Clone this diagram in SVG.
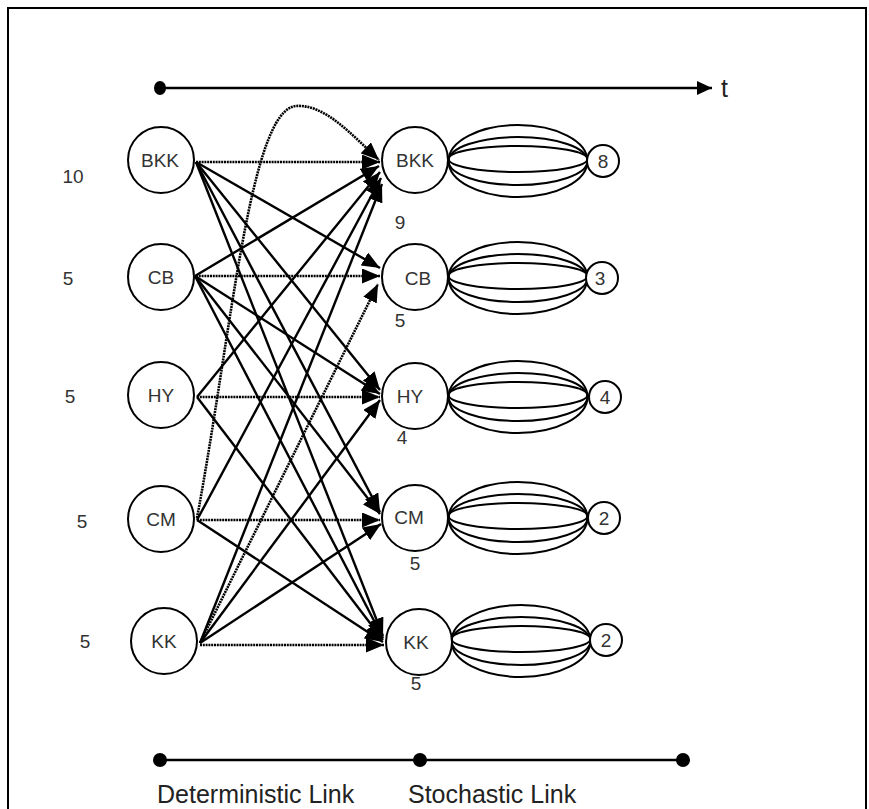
<svg xmlns="http://www.w3.org/2000/svg" width="869" height="809" viewBox="0 0 869 809">
  <defs>
    <marker id="head" markerUnits="userSpaceOnUse" markerWidth="19" markerHeight="15" refX="18" refY="7.5" orient="auto">
      <path d="M0,0 L18,7.5 L0,15 z" fill="#000"/>
    </marker>
    <marker id="tip" markerUnits="userSpaceOnUse" markerWidth="16" markerHeight="14" refX="15" refY="7" orient="auto">
      <path d="M0,0 L15,7 L0,14 z" fill="#000"/>
    </marker>
  </defs>
  <style>
    .node { fill: #fff; stroke: #000; stroke-width: 2; }
    .lens { fill: none; stroke: #000; stroke-width: 2; }
    .lbl { font-family: "Liberation Sans", Arial, sans-serif; font-size: 19px; fill: #333; text-anchor: middle; }
    .num { font-family: "Liberation Sans", Arial, sans-serif; font-size: 19px; fill: #333; text-anchor: middle; }
    .cap { font-family: "Liberation Sans", Arial, sans-serif; font-size: 25px; fill: #222; }
    .solid { fill: none; stroke: #000; stroke-width: 2.4; marker-end: url(#head); }
    .dot { fill: none; stroke: #000; stroke-width: 2.6; stroke-dasharray: 2 0.8; marker-end: url(#head); }
    .axis { stroke: #000; stroke-width: 2.6; fill: none; }
  </style>

  <rect x="0" y="0" width="869" height="809" fill="#fff"/>
  <rect x="8" y="8" width="858" height="830" fill="none" stroke="#000" stroke-width="2"/>

  <!-- time axis -->
  <g id="time-axis">
    <line class="axis" x1="160" y1="88" x2="712" y2="88" marker-end="url(#tip)"/>
    <ellipse cx="160" cy="88" rx="6" ry="7" fill="#000"/>
    <text class="cap" x="721" y="97" font-size="27">t</text>
  </g>

  <!-- supply numbers -->
  <g id="supply">
    <text class="num" x="73" y="183">10</text>
    <text class="num" x="68" y="285">5</text>
    <text class="num" x="70" y="403">5</text>
    <text class="num" x="82" y="528">5</text>
    <text class="num" x="85" y="648">5</text>
  </g>

  <!-- connectors -->
  <g id="connectors">
    <!-- same-city dotted links -->
    <line class="dot" x1="196" y1="162" x2="380" y2="162"/>
    <line class="dot" x1="196" y1="276" x2="380" y2="276"/>
    <line class="dot" x1="197" y1="397" x2="380" y2="397"/>
    <line class="dot" x1="197" y1="520" x2="380" y2="520"/>
    <line class="dot" x1="200" y1="645" x2="384" y2="645"/>
    <path class="dot" d="M197,518 C232,330 250,110 296,106 C325,104 352,135 379,160"/>
    <line class="dot" x1="200" y1="643" x2="378" y2="284"/>

    <!-- from BKK -->
    <line class="solid" x1="196" y1="162" x2="380" y2="268"/>
    <line class="solid" x1="196" y1="162" x2="380" y2="390"/>
    <line class="solid" x1="196" y1="162" x2="380" y2="512"/>
    <line class="solid" x1="196" y1="162" x2="383" y2="636"/>
    <!-- from CB -->
    <line class="solid" x1="195" y1="276" x2="379" y2="166"/>
    <line class="solid" x1="195" y1="276" x2="380" y2="394"/>
    <line class="solid" x1="195" y1="276" x2="380" y2="514"/>
    <line class="solid" x1="195" y1="276" x2="383" y2="638"/>
    <!-- from HY -->
    <line class="solid" x1="197" y1="397" x2="380" y2="172"/>
    <line class="solid" x1="197" y1="397" x2="383" y2="640"/>
    <!-- from CM -->
    <line class="solid" x1="197" y1="520" x2="381" y2="178"/>
    <line class="solid" x1="197" y1="520" x2="383" y2="642"/>
    <!-- from KK -->
    <line class="solid" x1="200" y1="643" x2="382" y2="184"/>
    <line class="solid" x1="200" y1="643" x2="380" y2="400"/>
    <line class="solid" x1="200" y1="643" x2="381" y2="524"/>
  </g>

  <!-- origin nodes -->
  <g id="o-bkk"><circle class="node" cx="161" cy="160" r="33"/><text class="lbl" x="160" y="167">BKK</text></g>
  <g id="o-cb"><circle class="node" cx="161" cy="277" r="33"/><text class="lbl" x="161" y="284">CB</text></g>
  <g id="o-hy"><circle class="node" cx="161" cy="395" r="33"/><text class="lbl" x="161" y="402">HY</text></g>
  <g id="o-cm"><circle class="node" cx="161" cy="519" r="33"/><text class="lbl" x="161" y="526">CM</text></g>
  <g id="o-kk"><circle class="node" cx="164" cy="641" r="33"/><text class="lbl" x="164" y="648">KK</text></g>

  <!-- destination nodes with stochastic bundles -->
  <g id="d-bkk">
    <ellipse class="lens" cx="518" cy="161" rx="69.5" ry="36"/>
    <ellipse class="lens" cx="518" cy="161" rx="69.5" ry="24"/>
    <ellipse class="lens" cx="518" cy="159" rx="69.5" ry="13"/>
    <circle class="node" cx="415" cy="160" r="33"/><text class="lbl" x="415" y="167">BKK</text>
    <circle class="node" cx="603" cy="161" r="16"/><text class="num" x="603" y="168">8</text>
    <text class="num" x="400" y="229">9</text>
  </g>
  <g id="d-cb">
    <ellipse class="lens" cx="518" cy="278" rx="69.5" ry="36"/>
    <ellipse class="lens" cx="518" cy="278" rx="69.5" ry="24"/>
    <ellipse class="lens" cx="518" cy="276" rx="69.5" ry="13"/>
    <circle class="node" cx="415" cy="277" r="33"/><text class="lbl" x="418" y="285">CB</text>
    <circle class="node" cx="602" cy="278" r="16"/><text class="num" x="600" y="285">3</text>
    <text class="num" x="400" y="327">5</text>
  </g>
  <g id="d-hy">
    <ellipse class="lens" cx="518" cy="397" rx="69.5" ry="36"/>
    <ellipse class="lens" cx="518" cy="397" rx="69.5" ry="24"/>
    <ellipse class="lens" cx="518" cy="395" rx="69.5" ry="13"/>
    <circle class="node" cx="415" cy="396" r="33"/><text class="lbl" x="410" y="403">HY</text>
    <circle class="node" cx="605" cy="397" r="16"/><text class="num" x="605" y="404">4</text>
    <text class="num" x="402" y="444">4</text>
  </g>
  <g id="d-cm">
    <ellipse class="lens" cx="518" cy="518" rx="69.5" ry="36"/>
    <ellipse class="lens" cx="518" cy="518" rx="69.5" ry="24"/>
    <ellipse class="lens" cx="518" cy="516" rx="69.5" ry="13"/>
    <circle class="node" cx="415" cy="518" r="33"/><text class="lbl" x="409" y="524">CM</text>
    <circle class="node" cx="604" cy="518" r="16"/><text class="num" x="604" y="525">2</text>
    <text class="num" x="415" y="570">5</text>
  </g>
  <g id="d-kk">
    <ellipse class="lens" cx="521" cy="641" rx="69.5" ry="36"/>
    <ellipse class="lens" cx="521" cy="641" rx="69.5" ry="24"/>
    <ellipse class="lens" cx="521" cy="639" rx="69.5" ry="13"/>
    <circle class="node" cx="419" cy="642" r="33"/><text class="lbl" x="416" y="649">KK</text>
    <circle class="node" cx="606" cy="640" r="16"/><text class="num" x="606" y="647">2</text>
    <text class="num" x="416" y="690">5</text>
  </g>

  <!-- link-type legend -->
  <g id="legend">
    <line class="axis" x1="160" y1="760" x2="683" y2="760"/>
    <circle cx="160" cy="760" r="7" fill="#000"/>
    <circle cx="420" cy="760" r="7" fill="#000"/>
    <circle cx="683" cy="760" r="7" fill="#000"/>
    <text class="cap" x="157" y="803">Deterministic Link</text>
    <text class="cap" x="408" y="803">Stochastic Link</text>
  </g>
</svg>
